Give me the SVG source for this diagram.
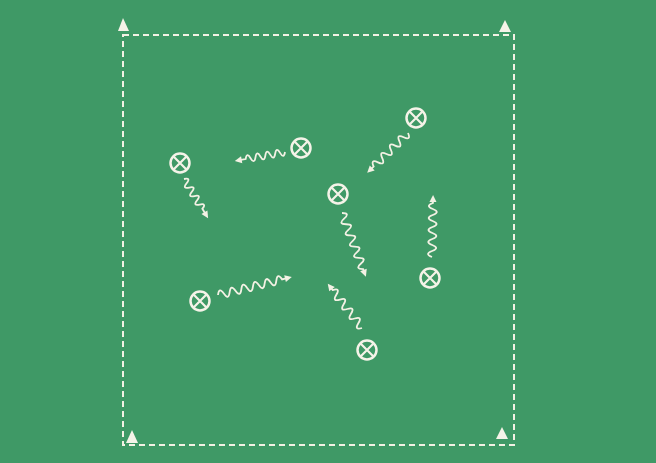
<svg xmlns="http://www.w3.org/2000/svg" width="656" height="463" viewBox="0 0 656 463">
<defs>
<style>
.field{fill:#3f9966}
.bound{fill:none;stroke:#f3f1e4;stroke-width:2;stroke-dasharray:6 4}
.cone{fill:#f5f3e8}
.pc{fill:none;stroke:#f5f3e8;stroke-width:2.5}
.px{fill:none;stroke:#f5f3e8;stroke-width:2.2}
.drib path{fill:none;stroke:#f3f1e4;stroke-width:1.8}
.drib polygon{fill:#f3f1e4}
</style>
<g id="player"><circle class="pc" r="9.5"/><path class="px" d="M-6.7,-6.7L6.7,6.7M6.7,-6.7L-6.7,6.7"/></g>
</defs>
<rect class="field" x="0" y="0" width="656" height="463"/>
<g id="area">
<path class="bound" d="M123,35H514V445H123Z"/>
<polygon class="cone" points="123,18 118,31 129,31"/>
<polygon class="cone" points="505,20 499,32 511,32"/>
<polygon class="cone" points="132,430 126,443 138,443"/>
<polygon class="cone" points="502,427 496,439 508,439"/>
</g>
<g id="p1"><use href="#player" x="180" y="163"/></g>
<g id="p2"><use href="#player" x="301" y="148"/></g>
<g id="p3"><use href="#player" x="416" y="118"/></g>
<g id="p4"><use href="#player" x="338" y="194"/></g>
<g id="p5"><use href="#player" x="430" y="278"/></g>
<g id="p6"><use href="#player" x="200" y="301"/></g>
<g id="p7"><use href="#player" x="367" y="350"/></g>
<g id="connectors" class="drib">
<g transform="translate(184,179) rotate(58.4)"><path d="M0,0 q2.5,-7 5,0 t5,0 t5,0 t5,0 t5,0 t5,0 t5,0 L40,0"/><polygon points="46,0 39,-3.5 39,3.5"/></g>
<g transform="translate(285,152) rotate(169.8)"><path d="M0,0 q2.5,-7 5,0 t5,0 t5,0 t5,0 t5,0 t5,0 t5,0 t5,0 L45,0"/><polygon points="51,0 44,-3.5 44,3.5"/></g>
<g transform="translate(408,133) rotate(135.7)"><path d="M0,0 q3,-8 6,0 t6,0 t6,0 t6,0 t6,0 t6,0 t6,0 t6,0 L51,0"/><polygon points="57,0 50,-3.5 50,3.5"/></g>
<g transform="translate(342,213) rotate(69.4)"><path d="M0,0 q3,-8 6,0 t6,0 t6,0 t6,0 t6,0 t6,0 t6,0 t6,0 t6,0 t6,0 L62,0"/><polygon points="68,0 61,-3.5 61,3.5"/></g>
<g transform="translate(432,257) rotate(-89)"><path d="M0,0 q3,-8 6,0 t6,0 t6,0 t6,0 t6,0 t6,0 t6,0 t6,0 t6,0 L56,0"/><polygon points="62,0 55,-3.5 55,3.5"/></g>
<g transform="translate(218,295) rotate(-13.7)"><path d="M0,0 q3,-8 6,0 t6,0 t6,0 t6,0 t6,0 t6,0 t6,0 t6,0 t6,0 t6,0 t6,0 L70,0"/><polygon points="76,0 69,-3.5 69,3.5"/></g>
<g transform="translate(362,328) rotate(-127.7)"><path d="M0,0 q3,-8 6,0 t6,0 t6,0 t6,0 t6,0 t6,0 t6,0 t6,0 L50,0"/><polygon points="56,0 49,-3.5 49,3.5"/></g>
</g>
</svg>
